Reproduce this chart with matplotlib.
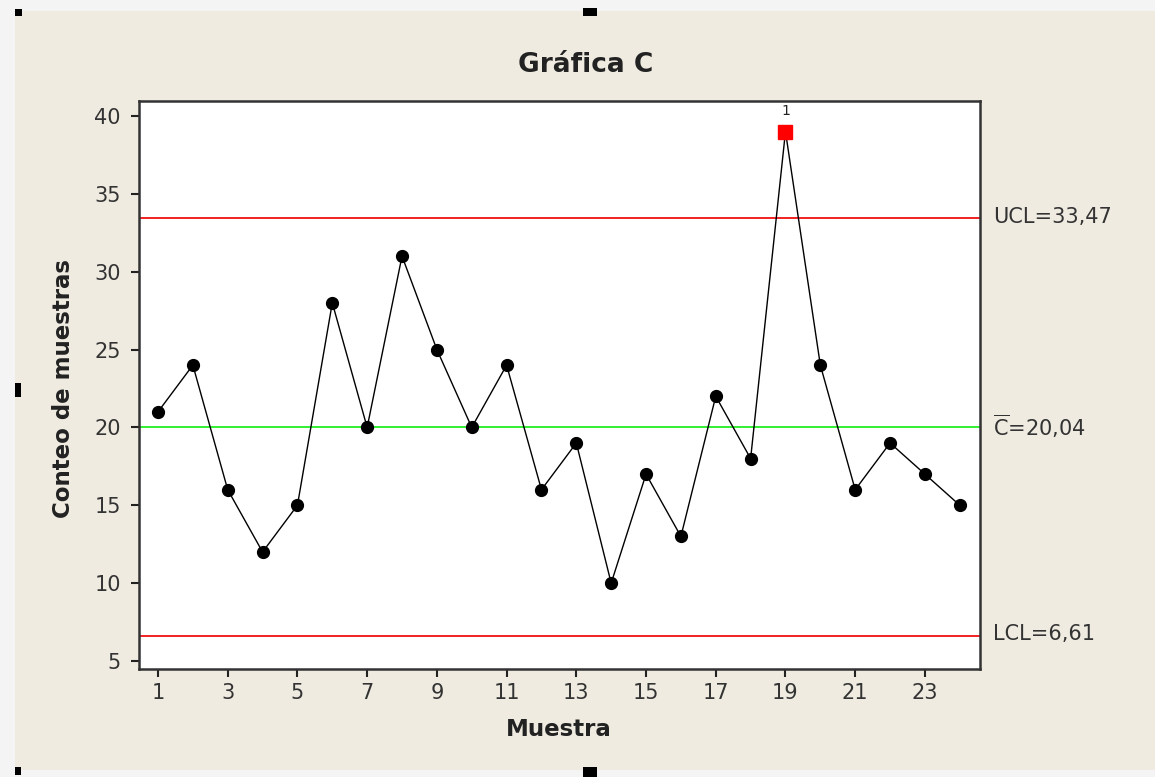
"""C control chart (Minitab style) recreated with matplotlib."""

import matplotlib

matplotlib.use("Agg")

import matplotlib.pyplot as plt
from matplotlib.patches import Rectangle

samples = list(range(1, 25))
counts = [21, 24, 16, 12, 15, 28, 20, 31, 25, 20, 24, 16,
          19, 10, 17, 13, 22, 18, 39, 24, 16, 19, 17, 15]
center = 20.04
ucl = 33.47
lcl = 6.61
x_ticks = list(range(1, 24, 2))
y_ticks = list(range(5, 41, 5))

W, H = 1155, 777
BEIGE = "#efebe1"

fig = plt.figure(figsize=(W / 100, H / 100), dpi=100, facecolor="#f4f4f4")

# beige panel behind the chart (screenshot frame)
fig.patches.append(Rectangle((15 / W, 1 - 770 / H), 1 - 15 / W, (770 - 11) / H,
                             transform=fig.transFigure, facecolor=BEIGE,
                             edgecolor="none", zorder=-2))
# selection handles
for x0, y0, w, h in [(15, 9, 7, 7), (583, 8, 14, 8), (15, 383, 6, 14),
                     (15, 767, 6, 8), (583, 767, 14, 10)]:
    fig.patches.append(Rectangle((x0 / W, 1 - (y0 + h) / H), w / W, h / H,
                                 transform=fig.transFigure, facecolor="black",
                                 edgecolor="none", zorder=-1))

ax = fig.add_axes([139 / W, 1 - 669 / H, (980 - 139) / W, (669 - 101) / H])
ax.set_facecolor("white")

ax.plot(samples, counts, color="black", lw=1.0, marker="o", ms=8.5,
        markerfacecolor="black", markeredgecolor="black", zorder=3)

# out-of-control points
out_x = [s for s, c in zip(samples, counts) if c > ucl or c < lcl]
out_y = [c for c in counts if c > ucl or c < lcl]
ax.plot(out_x, out_y, ls="none", marker="s", ms=9.5, color="#ff0000", zorder=4)
for x, y in zip(out_x, out_y):
    ax.text(x, y + 0.9, "1", ha="center", va="bottom", fontsize=10, color="#222222")

ax.axhline(ucl, color="#f01010", lw=1.3, zorder=2)
ax.axhline(lcl, color="#f01010", lw=1.3, zorder=2)
ax.axhline(center, color="#22ee22", lw=1.3, zorder=2)

ax.set_xlim(0.455, 24.58)
ax.set_ylim(4.486, 40.963)
ax.set_xticks(x_ticks)
ax.set_yticks(y_ticks)
ax.tick_params(axis="both", direction="out", length=6, width=1.5,
               color="#222222", labelsize=15, labelcolor="#333333")
ax.tick_params(axis="y", pad=7)
ax.tick_params(axis="x", pad=4)
for side in ax.spines.values():
    side.set_linewidth(1.8)
    side.set_color("#333333")

fig.text(586 / W, 1 - 65 / H, "Gráfica C", ha="center", va="center",
         fontsize=19, fontweight="bold", color="#222222")
fig.text(559 / W, 1 - 730 / H, "Muestra", ha="center", va="center",
         fontsize=16.5, fontweight="bold", color="#222222")
fig.text(63 / W, 1 - 388 / H, "Conteo de muestras", ha="center", va="center",
         rotation=90, fontsize=16.5, fontweight="bold", color="#222222")

label_x = 993 / W
fig.text(label_x, 1 - 217 / H, "UCL=33,47", ha="left", va="center",
         fontsize=15, color="#333333")
fig.text(label_x, 1 - 426 / H, r"$\overline{\mathrm{C}}$=20,04", ha="left",
         va="center", fontsize=15, color="#333333")
fig.text(label_x, 1 - 634 / H, "LCL=6,61", ha="left", va="center",
         fontsize=15, color="#333333")

fig.savefig("out.png", dpi=100, facecolor=fig.get_facecolor())
plt.close(fig)
